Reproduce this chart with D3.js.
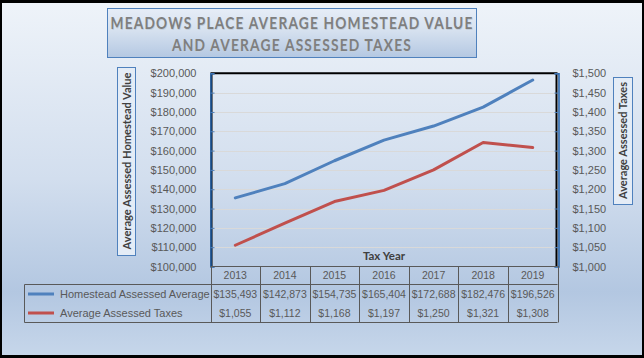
<!DOCTYPE html>
<html><head><meta charset="utf-8">
<script src="https://cdn.jsdelivr.net/npm/d3@7/dist/d3.min.js"></script>
<style>body{margin:0;background:#000;} svg{display:block;}</style>
</head><body>
<script>
const years = ["2013","2014","2015","2016","2017","2018","2019"];
const homestead = [135493,142873,154735,165404,172688,182476,196526];
const taxes = [1055,1112,1168,1197,1250,1321,1308];
const leftTicks = [100000,110000,120000,130000,140000,150000,160000,170000,180000,190000,200000];
const rightTicks = [1000,1050,1100,1150,1200,1250,1300,1350,1400,1450,1500];
const seriesNames = ["Homestead Assessed Average","Average Assessed Taxes"];
const seriesColors = ["#4f81bd","#c0504d"];
const titleLines = ["MEADOWS PLACE AVERAGE HOMESTEAD VALUE","AND AVERAGE ASSESSED TAXES"];

const W=644,H=358;
const font="'Liberation Sans', Arial, sans-serif";
const tfont="Lato, 'Open Sans', sans-serif";
const svg=d3.select("body").append("svg").attr("width",W).attr("height",H);
const defs=svg.append("defs");
const bg=defs.append("linearGradient").attr("id","bg").attr("x1",0).attr("y1",0).attr("x2",0).attr("y2",1);
[[0,"#eef3f9"],[0.5,"#d2deee"],[0.82,"#b3c7e1"],[1,"#c6d6ea"]].forEach(s=>bg.append("stop").attr("offset",s[0]).attr("stop-color",s[1]));
const tg=defs.append("linearGradient").attr("id","tg").attr("x1",0).attr("y1",0).attr("x2",0).attr("y2",1);
[[0,"#e6edf7"],[0.45,"#d6e1ef"],[1,"#b4c8e2"]].forEach(s=>tg.append("stop").attr("offset",s[0]).attr("stop-color",s[1]));

svg.append("rect").attr("x",2).attr("y",3).attr("width",640).attr("height",352).attr("fill","url(#bg)");

const L=210.5,R=557.5,T=73.3,B=266.5;
const x=d3.scaleBand().domain(years).range([L,R]);
const yL=d3.scaleLinear().domain([100000,200000]).range([B,T]);
const yR=d3.scaleLinear().domain([1000,1500]).range([B,T]);
const cx=d=>x(d)+x.bandwidth()/2;

// gridlines
svg.append("g").selectAll("line").data(leftTicks.filter(t=>t>100000&&t<200000)).join("line")
  .attr("x1",L+1).attr("x2",R-1).attr("y1",d=>Math.round(yL(d))+0.5).attr("y2",d=>Math.round(yL(d))+0.5)
  .attr("stroke","#d9d9d9").attr("stroke-width",1);

// plot border
svg.append("path").attr("d",`M${L+1},${B} L${L+1},${T} L${R-1},${T} L${R-1},${B}`)
  .attr("fill","none").attr("stroke","#000").attr("stroke-width",2);

// axes
const axL=d3.axisLeft(yL).tickValues(leftTicks).tickSize(-4).tickPadding(14).tickFormat(d=>"$"+d3.format(",")(d));
const gL=svg.append("g").attr("transform",`translate(${L},0)`).call(axL);
gL.select(".domain").attr("stroke","#1f5fa8").attr("stroke-width",1.5);
gL.selectAll(".tick line").attr("stroke","#4f81bd");
gL.selectAll("text").attr("font-family",font).attr("font-size",11).attr("fill","#595959");

const axR=d3.axisRight(yR).tickValues(rightTicks).tickSize(-4).tickPadding(14).tickFormat(d=>"$"+d3.format(",")(d));
const gR=svg.append("g").attr("transform",`translate(${R+1},0)`).call(axR);
gR.select(".domain").attr("stroke","#1f5fa8").attr("stroke-width",1.5);
gR.selectAll(".tick line").attr("stroke","#4f81bd");
gR.selectAll("text").attr("font-family",font).attr("font-size",11).attr("fill","#595959");

// lines
const lineL=d3.line().x((d,i)=>cx(years[i])).y(d=>yL(d));
const lineR=d3.line().x((d,i)=>cx(years[i])).y(d=>yR(d));
svg.append("path").attr("d",lineL(homestead)).attr("fill","none").attr("stroke",seriesColors[0]).attr("stroke-width",3).attr("stroke-linejoin","round").attr("stroke-linecap","round");
svg.append("path").attr("d",lineR(taxes)).attr("fill","none").attr("stroke",seriesColors[1]).attr("stroke-width",3).attr("stroke-linejoin","round").attr("stroke-linecap","round");

// Tax Year label
svg.append("text").attr("x",(L+R)/2).attr("y",260).attr("text-anchor","middle")
  .attr("font-family",tfont).attr("font-size",11.5).attr("font-weight","bold").attr("fill","#404040").text("Tax Year");

// data table
const tc="#595959";
const rowTop=266, r1=284.5, rBot=322.5, legL=24.5;
const tbl=svg.append("g").attr("stroke",tc).attr("stroke-width",1).attr("fill","none");
tbl.append("line").attr("x1",L).attr("x2",R).attr("y1",rowTop+0.5).attr("y2",rowTop+0.5);
tbl.append("line").attr("x1",legL).attr("x2",R).attr("y1",r1).attr("y2",r1);
tbl.append("line").attr("x1",legL).attr("x2",R).attr("y1",rBot).attr("y2",rBot);
tbl.append("line").attr("x1",legL).attr("x2",legL).attr("y1",r1).attr("y2",rBot);
tbl.selectAll(".v").data(years.concat(["end"])).join("line")
  .attr("x1",(d,i)=>Math.round(L+i*x.bandwidth())+0.5).attr("x2",(d,i)=>Math.round(L+i*x.bandwidth())+0.5)
  .attr("y1",rowTop).attr("y2",rBot);

const txt=svg.append("g").attr("font-family",font).attr("font-size",10.5).attr("fill",tc);
txt.selectAll(".yr").data(years).join("text").attr("x",d=>cx(d)).attr("y",279).attr("text-anchor","middle").text(d=>d);
txt.selectAll(".h").data(homestead).join("text").attr("x",(d,i)=>cx(years[i])).attr("y",298).attr("text-anchor","middle").text(d=>"$"+d3.format(",")(d));
txt.selectAll(".t").data(taxes).join("text").attr("x",(d,i)=>cx(years[i])).attr("y",317).attr("text-anchor","middle").text(d=>"$"+d3.format(",")(d));
const legY=[294,313];
seriesNames.forEach((n,i)=>{
  svg.append("line").attr("x1",28).attr("x2",54).attr("y1",legY[i]).attr("y2",legY[i]).attr("stroke",seriesColors[i]).attr("stroke-width",3);
  txt.append("text").attr("x",60).attr("y",legY[i]+4).attr("font-size",11).text(n);
});

// title box
svg.append("rect").attr("x",107.5).attr("y",8.5).attr("width",369).attr("height",49).attr("fill","url(#tg)").attr("stroke","#4f81bd").attr("stroke-width",1);
const tW=[363,240], tY=[28.5,51];
titleLines.forEach((t,i)=>{
  svg.append("text").attr("x",292.5).attr("y",tY[i]+1).attr("text-anchor","middle")
    .attr("font-family",tfont).attr("font-size",17.5).attr("font-weight","bold").attr("fill","#c3cfdd")
    .attr("letter-spacing",1.5).attr("textLength",tW[i]).attr("lengthAdjust","spacingAndGlyphs").text(t);
  svg.append("text").attr("x",292).attr("y",tY[i]).attr("text-anchor","middle")
    .attr("font-family",tfont).attr("font-size",17.5).attr("font-weight","bold").attr("fill","#7f7f7f")
    .attr("letter-spacing",1.5).attr("textLength",tW[i]).attr("lengthAdjust","spacingAndGlyphs").text(t);
});

// axis title boxes
function axisTitle(x0,y0,w,h,label,len){
  svg.append("rect").attr("x",x0+0.5).attr("y",y0+0.5).attr("width",w).attr("height",h).attr("fill","#e4ecf6").attr("stroke","#4f81bd").attr("stroke-width",1);
  svg.append("text").attr("transform",`translate(${x0+w/2+4.5},${y0+h/2}) rotate(-90)`).attr("text-anchor","middle")
    .attr("font-family",tfont).attr("font-size",12).attr("font-weight","bold").attr("fill","#404040")
    .attr("textLength",len).attr("lengthAdjust","spacingAndGlyphs").text(label);
}
axisTitle(117,67,18,188,"Average Assessed Homestead Value",177);
axisTitle(613,77,19,127,"Average Assessed Taxes",117);
</script>
</body></html>
